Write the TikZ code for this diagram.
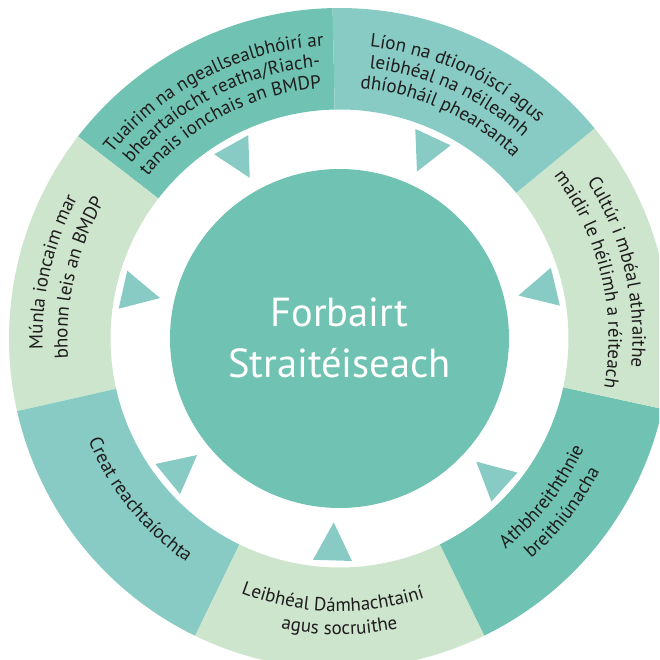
\documentclass[tikz,border=0pt]{standalone}
\usepackage{fontspec}
\setmainfont{PT Sans}
\usetikzlibrary{decorations.text}
\definecolor{darkteal}{HTML}{70C3B2}
\definecolor{lightteal}{HTML}{88CBC4}
\definecolor{palegreen}{HTML}{CDE5CC}
\definecolor{inktext}{HTML}{1E1C1D}
\newcommand{\ringfont}{\fontsize{19}{22}\selectfont\color{inktext}}
% one line of ring text: centre angle, baseline radius, text
\newcommand{\cwtext}[3]{\path[ringtext={#3}] (#1+45:#2) arc[start angle=#1+45,end angle=#1-45,radius=#2];}
\newcommand{\ccwtext}[3]{\path[ringtext={#3}] (#1-45:#2) arc[start angle=#1-45,end angle=#1+45,radius=#2];}

\begin{document}
\begin{tikzpicture}[x=1pt,y=1pt,
    ringtext/.style={decorate,decoration={text along path,text align=center,text={|\ringfont|#1}}},
    pointer/.style={fill=lightteal}]
    \useasboundingbox (-339.5,-321.5) rectangle (319.5,338.5);
    \clip (-339.5,-321.5) rectangle (319.5,338.5);
    % outer ring
    \foreach \a/\b/\c in {91.2/142.3/darkteal,142.3/192.7/palegreen,192.7/244.1/lightteal,
        244.1/296/palegreen,296/347.7/darkteal,-12.3/39.5/palegreen,39.5/91.2/lightteal}
        \fill[\c] (\a:229) arc[start angle=\a,end angle=\b,radius=229]
            -- (\b:330.5) arc[start angle=\b,end angle=\a,radius=330.5] -- cycle;
    % centre
    \node[circle,fill=darkteal,minimum size=339pt,inner sep=0pt] (core) at (0,0) {};
    \node[text=white,align=center,font=\fontsize{40.5}{51}\selectfont] (title) at ([yshift=1pt]core.center)
        {Forbairt\\Straitéiseach};
    % triangles
    \foreach \t in {119.2,65.1,13.5,-42,-91.8,219.3,167.3}
        \fill[pointer,rotate=\t] (184,0) -- (222,19.5) -- (222,-19.5) -- cycle;
    % texts
    \cwtext{117}{293}{Tuairim na ngeallsealbhóirí ar}
    \cwtext{117}{272}{bheartaíocht reatha/Riach-}
    \cwtext{117}{251}{tanais ionchais an BMDP}
    \cwtext{65.7}{293}{Líon na dtionóiscí agus}
    \cwtext{65.7}{272}{leibhéal na néileamh}
    \cwtext{65.7}{251}{dhíobháil phearsanta}
    \cwtext{13.4}{293}{Cultúr i mbéal athraithe}
    \cwtext{13.4}{269}{maidir le héilimh a réiteach}
    \ccwtext{-38}{268}{Athbhreiththnie}
    \ccwtext{-38}{292}{breithiúnacha}
    \ccwtext{-91.5}{273}{Leibhéal Dámhachtainí}
    \ccwtext{-90}{296}{agus socruithe}
    \ccwtext{218.9}{271}{Creat reachtaíochta}
    \cwtext{167}{297}{Múnla ioncaim mar}
    \cwtext{167}{272}{bhonn leis an BMDP}
\end{tikzpicture}
\end{document}
